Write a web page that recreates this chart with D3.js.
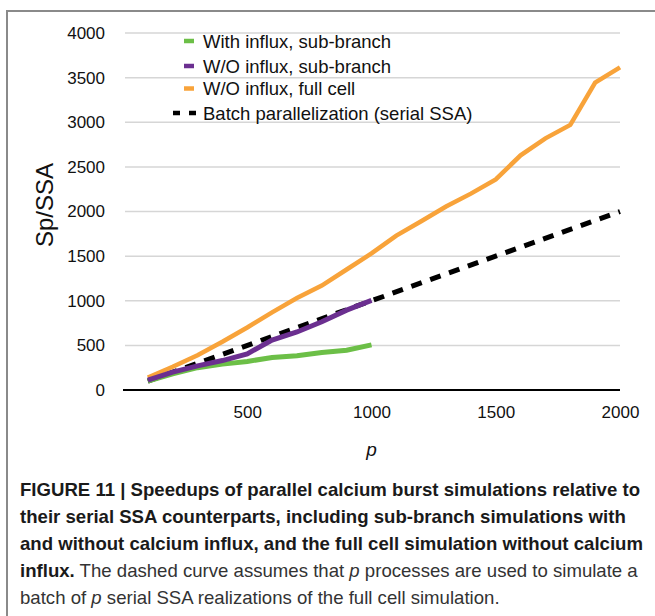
<!DOCTYPE html>
<html>
<head>
<meta charset="utf-8">
<script src="https://cdn.jsdelivr.net/npm/d3@7"></script>
<style>
  body { margin: 0; background: #fff; }
  svg text { font-family: "Liberation Sans", Arial, sans-serif; }
</style>
</head>
<body>
<div id="chart"></div>
<script>
// processes p
const pSub = [100, 200, 300, 400, 500, 600, 700, 800, 900, 1000];
const pFull = [100, 200, 300, 400, 500, 600, 700, 800, 900, 1000,
               1100, 1200, 1300, 1400, 1500, 1600, 1700, 1800, 1900, 2000];

// speedups
const withInfluxSub = [100, 180, 250, 290, 320, 365, 385, 420, 445, 505];
const woInfluxSub = [110, 200, 270, 330, 405, 560, 650, 765, 895, 1005];
const woInfluxFull = [140, 260, 390, 540, 700, 870, 1030, 1170, 1350, 1530,
                      1730, 1890, 2055, 2200, 2360, 2630, 2820, 2970, 3445, 3615];
const batchP = [100, 2000];

const yTicks = [0, 500, 1000, 1500, 2000, 2500, 3000, 3500, 4000];
const xTicks = [500, 1000, 1500, 2000];

const seriesNames = ['With influx, sub-branch', 'W/O influx, sub-branch',
                     'W/O influx, full cell', 'Batch parallelization (serial SSA)'];

const captionLines = [
  [{t: 'FIGURE 11 | Speedups of parallel calcium burst simulations relative to', b: true}],
  [{t: 'their serial SSA counterparts, including sub-branch simulations with', b: true}],
  [{t: 'and without calcium influx, and the full cell simulation without calcium', b: true}],
  [{t: 'influx.', b: true}, {t: ' The dashed curve assumes that '}, {t: 'p', i: true},
   {t: ' processes are used to simulate a'}],
  [{t: 'batch of '}, {t: 'p', i: true}, {t: ' serial SSA realizations of the full cell simulation.'}]
];

const W = 655, H = 616;
const svg = d3.select('#chart').append('svg')
    .attr('width', W)
    .attr('height', H);

// frame
svg.append('path')
    .attr('d', 'M7,616 V11 H655')
    .attr('fill', 'none')
    .attr('stroke', '#8a8a8a')
    .attr('stroke-width', 2);

const x = d3.scaleLinear().domain([0, 2000]).range([123, 620]);
const y = d3.scaleLinear().domain([0, 4000]).range([390, 33]);

// gridlines
svg.append('g')
  .selectAll('line')
    .data(yTicks.filter(d => d > 0))
  .enter().append('line')
    .attr('x1', x(0) + 2)
    .attr('x2', x(2000))
    .attr('y1', d => y(d))
    .attr('y2', d => y(d))
    .style('stroke', '#d6d6d6')
    .style('stroke-width', 1.5);

const yAxis = d3.axisLeft(y)
    .tickValues(yTicks)
    .tickSize(0)
    .tickPadding(18)
    .tickFormat(d => d);

svg.append('g')
    .attr('transform', 'translate(' + x(0) + ',0)')
    .call(yAxis)
    .call(g => g.select('.domain').remove())
    .selectAll('text')
    .style('font-size', '17px')
    .style('fill', '#111');

const xAxis = d3.axisBottom(x)
    .tickValues(xTicks)
    .tickSize(0)
    .tickPadding(16)
    .tickFormat(d => d);

svg.append('g')
    .attr('transform', 'translate(0,' + y(0) + ')')
    .call(xAxis)
    .call(g => g.select('.domain').remove())
    .selectAll('text')
    .style('font-size', '17px')
    .style('fill', '#111');

// baseline
svg.append('line')
    .attr('x1', x(0))
    .attr('x2', x(2000))
    .attr('y1', y(0))
    .attr('y2', y(0))
    .style('stroke', '#000')
    .style('stroke-width', 2);

const line = d3.line()
    .x(d => x(d[0]))
    .y(d => y(d[1]));

const series = [
  {pts: d3.zip(pSub, withInfluxSub), colour: '#6cbf47', width: 5},
  {pts: d3.zip(pSub, woInfluxSub), colour: '#6b2f90', width: 5},
  {pts: d3.zip(pFull, woInfluxFull), colour: '#f8a33a', width: 4.5},
  {pts: d3.zip(batchP, batchP), colour: '#000', width: 5, dash: '11,9'}
];

// dashed first, then the curves in the order they sit in the figure
[3, 2, 0, 1].forEach(i => {
  const s = series[i];
  svg.append('path')
      .datum(s.pts)
      .attr('d', line)
      .attr('fill', 'none')
      .style('stroke', s.colour)
      .style('stroke-width', s.width)
      .style('stroke-dasharray', s.dash || null);
});

// legend
const legend = svg.append('g')
    .attr('class', 'legend')
    .attr('transform', 'translate(0,41)');

const rowY = [0, 25, 47.5, 72];
seriesNames.forEach((name, i) => {
  const row = legend.append('g').attr('transform', 'translate(0,' + rowY[i] + ')');
  if (i < 3) {
    row.append('line')
        .attr('x1', 184).attr('x2', 194)
        .style('stroke', series[i].colour)
        .style('stroke-width', 4.5);
  } else {
    row.append('line')
        .attr('x1', 173).attr('x2', 196)
        .style('stroke', '#000')
        .style('stroke-width', 4.5)
        .style('stroke-dasharray', '7,9');
  }
  row.append('text')
      .attr('x', 203)
      .attr('y', 6.5)
      .style('font-size', '18.5px')
      .style('fill', '#111')
      .text(name);
});

// axis titles
svg.append('text')
    .attr('transform', 'translate(53,205) rotate(-90)')
    .attr('text-anchor', 'middle')
    .style('font-size', '24px')
    .style('fill', '#111')
    .text('Sp/SSA');

svg.append('text')
    .attr('x', x(1000))
    .attr('y', 456)
    .attr('text-anchor', 'middle')
    .style('font-size', '19px')
    .style('font-style', 'italic')
    .style('fill', '#111')
    .text('p');

// caption
const caption = svg.append('text')
    .style('font-size', '18.6px')
    .style('fill', '#222');

captionLines.forEach((parts, i) => {
  parts.forEach((part, j) => {
    const ts = caption.append('tspan')
        .style('font-weight', part.b ? 'bold' : null)
        .style('font-style', part.i ? 'italic' : null)
        .style('fill', part.b ? '#1a1a1a' : '#333')
        .text(part.t);
    if (j === 0) ts.attr('x', 20).attr('y', 496 + i * 27);
  });
});
</script>
</body>
</html>
